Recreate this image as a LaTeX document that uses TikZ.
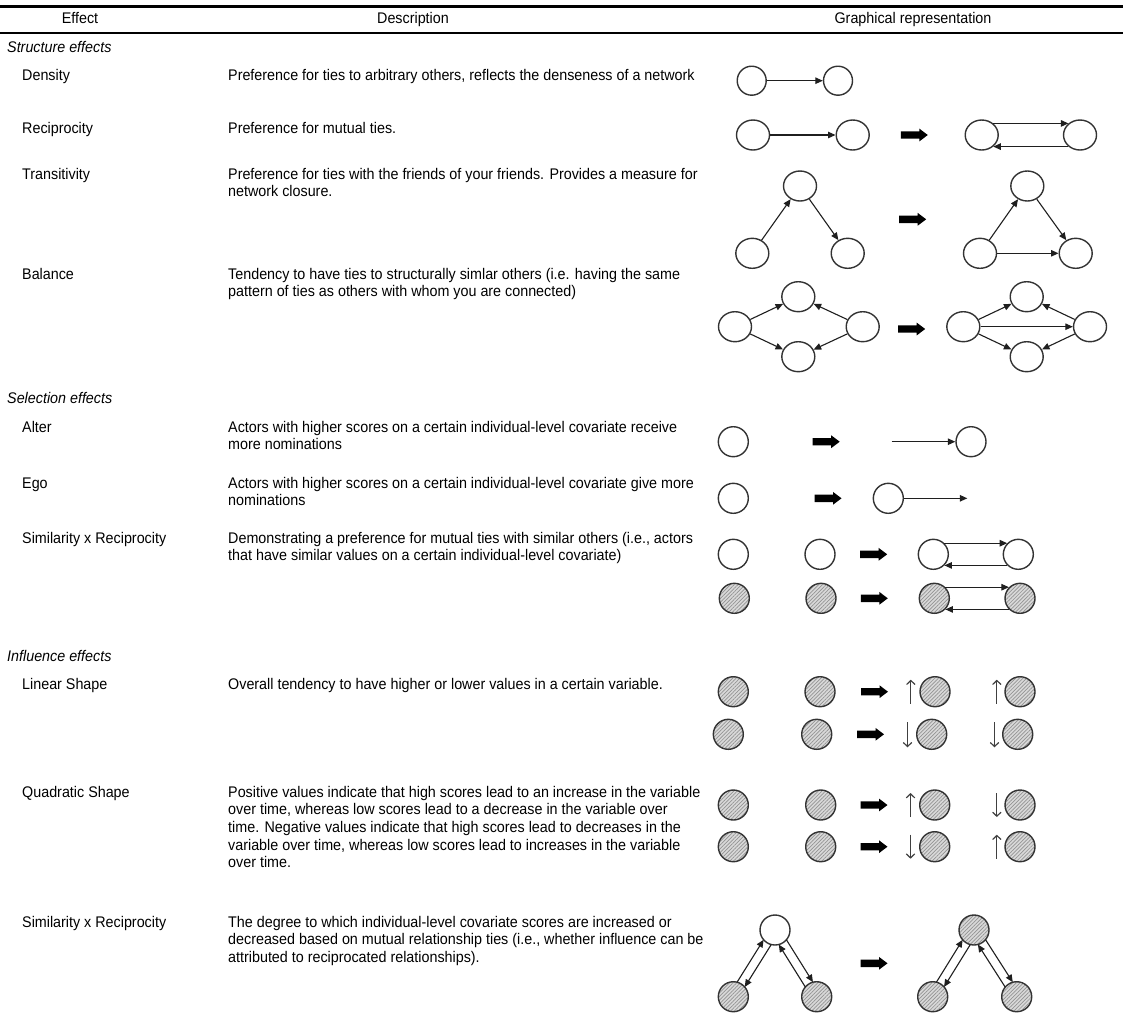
\documentclass[tikz,border=0pt]{standalone}
\usepackage{fontspec}
\setmainfont{Liberation Sans}[FakeStretch=0.93]
\usetikzlibrary{arrows.meta,shapes.geometric,patterns.meta,calc}
\newcommand\dsctxt[1]{\parbox[t]{520pt}{\raggedright #1}}
\begin{document}
\begin{tikzpicture}[x=1pt,y=-1pt,
  txt/.style={anchor=base west, inner sep=0pt, font=\fontsize{15.4}{17.7}\selectfont},
  sect/.style={anchor=base west, inner sep=0pt, font=\fontsize{15.4}{17.7}\selectfont\itshape},
  hdr/.style={anchor=base, inner sep=0pt, font=\fontsize{15.4}{17.7}\selectfont},
  rulethick/.style={line width=3pt, black},
  rulethin/.style={line width=1.8pt, black},
  wn/.style={circle, draw=black!80, line width=1.4pt, minimum size=30pt, inner sep=0pt},
  dn/.style={wn, minimum size=29pt},
  en/.style={ellipse, draw=black!80, line width=1.4pt, minimum width=33pt, minimum height=30pt, inner sep=0pt},
  hn/.style={wn, preaction={fill=gray!30}, pattern={Lines[angle=45,distance=2.6pt,line width=0.7pt]}, pattern color=gray!85},
  tie/.style={draw=black!88, line width=1.1pt, -{Triangle[length=7.5pt,width=6.5pt]}},
  ptie/.style={tie, shorten <=14.3pt, shorten >=14.3pt},
  updn/.style={draw=black!75, line width=1.2pt, -{Straight Barb[length=4pt,width=8.5pt]}},
  bigarr/.pic={\fill[black] (-13.5,-3.7) -- (5,-3.7) -- (5,-6.4) -- (13.5,0) -- (5,6.4) -- (5,3.7) -- (-13.5,3.7) -- cycle;}
]
\useasboundingbox (0,0) rectangle (1123,1021);

% ---- header
\draw[rulethick] (0,6) -- (1123,6);
\node[hdr] (hEff) at (80,23) {Effect};
\node[hdr] (hDesc) at (413,23) {Description};
\node[hdr] (hGraph) at (913,23) {Graphical representation};
\draw[rulethin] (0,33) -- (1123,33);

% ---- left column
\node[sect] (secS) at (7,52) {Structure effects};
\node[txt] (eDen) at (22,80) {Density};
\node[txt] (eRec) at (22,133) {Reciprocity};
\node[txt] (eTra) at (22,179) {Transitivity};
\node[txt] (eBal) at (22,279) {Balance};
\node[sect] (secSel) at (7,403) {Selection effects};
\node[txt] (eAlt) at (22,432) {Alter};
\node[txt] (eEgo) at (22,488) {Ego};
\node[txt] (eSim) at (22,543) {Similarity x Reciprocity};
\node[sect] (secInf) at (7,661) {Influence effects};
\node[txt] (eLin) at (22,689) {Linear Shape};
\node[txt] (eQua) at (22,797) {Quadratic Shape};
\node[txt] (eSim2) at (22,927) {Similarity x Reciprocity};

% ---- descriptions
\node[txt] (dDen) at (228,80) {\dsctxt{Preference for ties to arbitrary others, reflects the denseness of a network}};
\node[txt] (dRec) at (228,133) {\dsctxt{Preference for mutual ties.}};
\node[txt] (dTra) at (228,179) {\dsctxt{Preference for ties with the friends of your friends. Provides a measure for\\network closure.}};
\node[txt] (dBal) at (228,279) {\dsctxt{Tendency to have ties to structurally simlar others (i.e. having the same\\pattern of ties as others with whom you are connected)}};
\node[txt] (dAlt) at (228,432) {\dsctxt{Actors with higher scores on a certain individual-level covariate receive\\more nominations}};
\node[txt] (dEgo) at (228,488) {\dsctxt{Actors with higher scores on a certain individual-level covariate give more\\nominations}};
\node[txt] (dSim) at (228,543) {\dsctxt{Demonstrating a preference for mutual ties with similar others (i.e., actors\\that have similar values on a certain individual-level covariate)}};
\node[txt] (dLin) at (228,689) {\dsctxt{Overall tendency to have higher or lower values in a certain variable.}};
\node[txt] (dQua) at (228,797) {\dsctxt{Positive values indicate that high scores lead to an increase in the variable\\over time, whereas low scores lead to a decrease in the variable over\\time. Negative values indicate that high scores lead to decreases in the\\variable over time, whereas low scores lead to increases in the variable\\over time.}};
\node[txt] (dSim2) at (228,927) {\dsctxt{The degree to which individual-level covariate scores are increased or\\decreased based on mutual relationship ties (i.e., whether influence can be\\attributed to reciprocated relationships).}};

% ---- Density
\node[dn] (D1) at (751.7,80.7) {};
\node[dn] (D2) at (838,80.7) {};
\draw[tie] (D1) -- (D2);

% ---- Reciprocity
\node[en] (R1) at (753,135) {};
\node[en] (R2) at (852.7,135) {};
\draw[tie] (R1) -- (R2);
\pic at (914.3,135) {bigarr};
\node[en] (R3) at (981.7,135) {};
\node[en] (R4) at (1080,135) {};
\draw[tie] (R3.45) -- (R4.135);
\draw[tie] (R4.-135) -- (R3.-45);

% ---- Transitivity
\node[en] (T1) at (800,186) {};
\node[en] (T2) at (752.3,253.3) {};
\node[en] (T3) at (847.7,253.3) {};
\draw[tie] (T2) -- (T1);
\draw[tie] (T1) -- (T3);
\pic at (912.7,219.3) {bigarr};
\node[en] (T4) at (1027.3,186) {};
\node[en] (T5) at (980,253.3) {};
\node[en] (T6) at (1075.7,253.3) {};
\draw[tie] (T5) -- (T4);
\draw[tie] (T4) -- (T6);
\draw[tie] (T5) -- (T6);

% ---- Balance
\node[en] (B1) at (735,326.7) {};
\node[en] (B2) at (798.3,296.7) {};
\node[en] (B3) at (798.3,356.7) {};
\node[en] (B4) at (862.7,326.7) {};
\draw[tie] (B1) -- (B2);
\draw[tie] (B1) -- (B3);
\draw[tie] (B4) -- (B2);
\draw[tie] (B4) -- (B3);
\pic at (911.7,329) {bigarr};
\node[en] (B5) at (963.3,326.7) {};
\node[en] (B6) at (1026.7,296.7) {};
\node[en] (B7) at (1026.7,356.7) {};
\node[en] (B8) at (1090,326.7) {};
\draw[tie] (B5) -- (B6);
\draw[tie] (B5) -- (B7);
\draw[tie] (B8) -- (B6);
\draw[tie] (B8) -- (B7);
\draw[tie] (B5) -- (B8);

% ---- Alter
\node[wn] (A1) at (733.3,441.7) {};
\pic at (826.2,441.7) {bigarr};
\coordinate (A0) at (891.7,441.7);
\node[wn] (A2) at (971,441.7) {};
\draw[tie] (A0) -- (A2);

% ---- Ego
\node[wn] (E1) at (733.3,498.3) {};
\pic at (828,498.3) {bigarr};
\node[wn] (E2) at (888.3,498.3) {};
\coordinate (E0) at (967.3,498.3);
\draw[tie] (E2) -- (E0);

% ---- Similarity x Reciprocity (selection)
\node[wn] (S1) at (733.3,554.3) {};
\node[wn] (S2) at (820,554.3) {};
\pic at (873.7,554.3) {bigarr};
\node[wn] (S3) at (933.3,554.3) {};
\node[wn] (S4) at (1018.3,554.3) {};
\draw[tie] (S3.45) -- (S4.135);
\draw[tie] (S4.-135) -- (S3.-45);
\node[hn] (H1) at (734.3,598.3) {};
\node[hn] (H2) at (821,598.3) {};
\pic at (874.3,598.3) {bigarr};
\node[hn] (H3) at (934.3,598.3) {};
\node[hn] (H4) at (1020,598.3) {};
\draw[tie] (H3.45) -- (H4.135);
\draw[tie] (H4.-135) -- (H3.-45);

% ---- Linear shape
\node[hn] (L1) at (733.3,691.7) {};
\node[hn] (L2) at (820,691.7) {};
\pic at (874.5,691.7) {bigarr};
\node[hn] (L3) at (935,691.7) {};
\node[hn] (L4) at (1020,691.7) {};
\draw[updn] ([xshift=-8.5pt,yshift=-12pt]L3.west) -- ([xshift=-8.5pt,yshift=12pt]L3.west);
\draw[updn] ([xshift=-7.5pt,yshift=-12pt]L4.west) -- ([xshift=-7.5pt,yshift=12pt]L4.west);
\node[hn] (L5) at (728.3,734.3) {};
\node[hn] (L6) at (816.7,734.3) {};
\pic at (870.5,734.3) {bigarr};
\node[hn] (L7) at (931.7,734.3) {};
\node[hn] (L8) at (1017.7,734.3) {};
\draw[updn] ([xshift=-8.5pt,yshift=12pt]L7.west) -- ([xshift=-8.5pt,yshift=-13pt]L7.west);
\draw[updn] ([xshift=-7.5pt,yshift=12pt]L8.west) -- ([xshift=-7.5pt,yshift=-13pt]L8.west);

% ---- Quadratic shape
\node[hn] (Q1) at (733.3,805) {};
\node[hn] (Q2) at (820.7,805) {};
\pic at (874,805) {bigarr};
\node[hn] (Q3) at (934.7,805) {};
\node[hn] (Q4) at (1020,805) {};
\draw[updn] ([xshift=-8.5pt,yshift=-12pt]Q3.west) -- ([xshift=-8.5pt,yshift=12pt]Q3.west);
\draw[updn] ([xshift=-7.5pt,yshift=12pt]Q4.west) -- ([xshift=-7.5pt,yshift=-12pt]Q4.west);
\node[hn] (Q5) at (733.3,846.7) {};
\node[hn] (Q6) at (820.7,846.7) {};
\pic at (874,846.7) {bigarr};
\node[hn] (Q7) at (934.7,846.7) {};
\node[hn] (Q8) at (1020,846.7) {};
\draw[updn] ([xshift=-8.5pt,yshift=12pt]Q7.west) -- ([xshift=-8.5pt,yshift=-12pt]Q7.west);
\draw[updn] ([xshift=-7.5pt,yshift=-12pt]Q8.west) -- ([xshift=-7.5pt,yshift=12pt]Q8.west);

% ---- Similarity x Reciprocity (influence)
\node[wn] (I1) at (775,930) {};
\node[hn] (I2) at (733.3,996.7) {};
\node[hn] (I3) at (816.7,996.7) {};
\draw[ptie] ($(I2)!4.5pt!90:(I1)$) -- ($(I1)!4.5pt!-90:(I2)$);
\draw[ptie] ($(I1)!4.5pt!90:(I2)$) -- ($(I2)!4.5pt!-90:(I1)$);
\draw[ptie] ($(I1)!4.5pt!90:(I3)$) -- ($(I3)!4.5pt!-90:(I1)$);
\draw[ptie] ($(I3)!4.5pt!90:(I1)$) -- ($(I1)!4.5pt!-90:(I3)$);
\pic at (874,963.3) {bigarr};
\node[hn] (I4) at (974,930) {};
\node[hn] (I5) at (932.7,996.7) {};
\node[hn] (I6) at (1016.7,996.7) {};
\draw[ptie] ($(I5)!4.5pt!90:(I4)$) -- ($(I4)!4.5pt!-90:(I5)$);
\draw[ptie] ($(I4)!4.5pt!90:(I5)$) -- ($(I5)!4.5pt!-90:(I4)$);
\draw[ptie] ($(I4)!4.5pt!90:(I6)$) -- ($(I6)!4.5pt!-90:(I4)$);
\draw[ptie] ($(I6)!4.5pt!90:(I4)$) -- ($(I4)!4.5pt!-90:(I6)$);
\end{tikzpicture}
\end{document}
